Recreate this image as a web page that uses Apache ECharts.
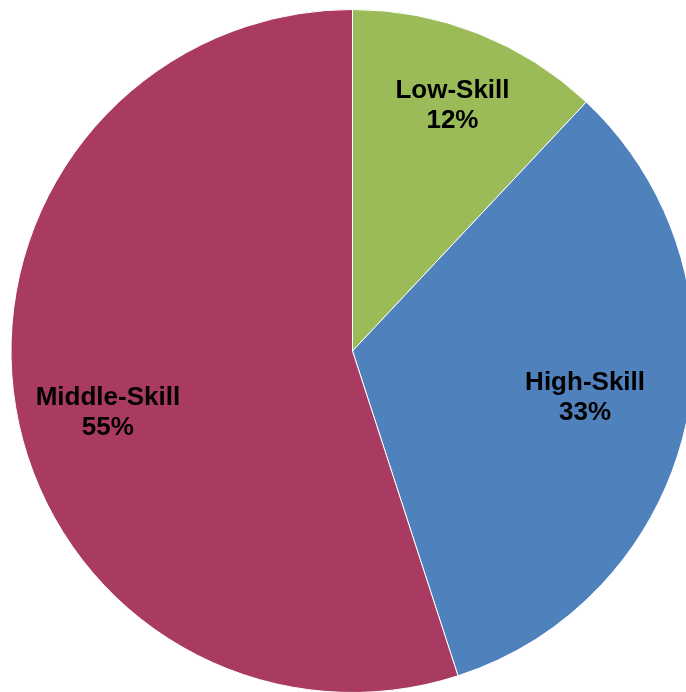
<!DOCTYPE html>
<html>
<head>
<meta charset="utf-8">
<script src="https://cdn.jsdelivr.net/npm/echarts@6/dist/echarts.min.js"></script>
<style>
html,body{margin:0;padding:0;background:#fff;}
#chart{width:686px;height:692px;}
</style>
</head>
<body>
<div id="chart"></div>
<script>
var categories = ['Low-Skill', 'High-Skill', 'Middle-Skill'];
var shares = [12, 33, 55];
var colors = ['#9BBB59', '#4F81BD', '#A93B62'];
var labelNudge = [[36, -84], [63, 9], [-73, 35]];

var chart = echarts.init(document.getElementById('chart'), null, {renderer: 'canvas'});
chart.setOption({
  backgroundColor: '#ffffff',
  animation: false,
  series: [{
    type: 'pie',
    center: [352.5, 351],
    radius: [0, 341.5],
    startAngle: 90,
    clockwise: true,
    silent: true,
    itemStyle: {borderColor: '#ffffff', borderWidth: 1},
    label: {
      show: true,
      position: 'inside',
      formatter: function (p) { return p.name + '\n' + p.value + '%'; },
      fontFamily: 'Liberation Sans, Arial, sans-serif',
      fontWeight: 'bold',
      fontSize: 26,
      lineHeight: 30,
      color: '#000000',
      align: 'center'
    },
    labelLayout: function (p) {
      var n = labelNudge[p.dataIndex];
      return {dx: n[0], dy: n[1]};
    },
    data: categories.map(function (c, i) {
      return {name: c, value: shares[i], itemStyle: {color: colors[i]}};
    })
  }]
});
</script>
</body>
</html>
